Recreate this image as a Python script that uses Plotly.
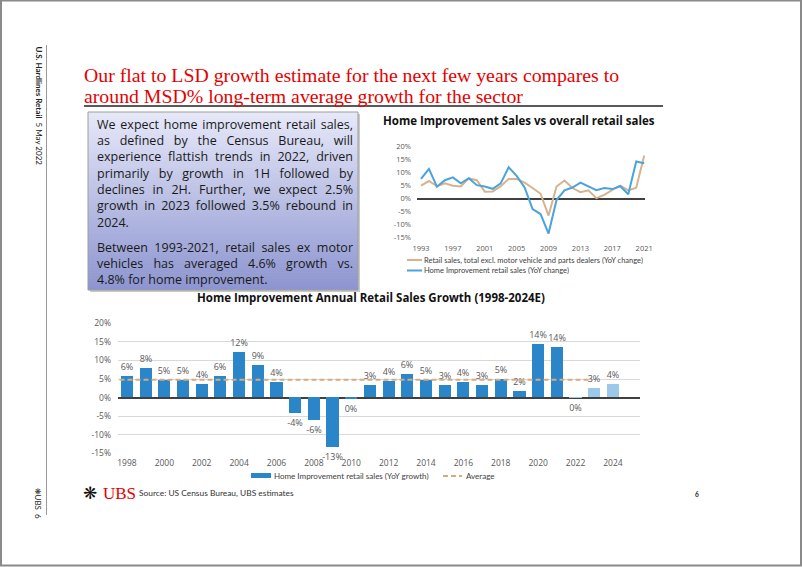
import json
import math
import plotly.graph_objects as go

W, H = 802, 567
def X(px): return px / W
def Y(py): return 1 - py / H

# ---------------- data ----------------
line_years = list(range(1993, 2022))
home_impr_yoy = [7.6, 11.5, 4.6, 7.1, 8.2, 5.9, 7.9, 5.2, 4.7, 3.8, 5.9, 12.1, 8.8, 4.3,
                 -4.0, -5.9, -13.4, -0.5, 3.2, 4.3, 6.2, 4.6, 3.3, 4.1, 3.7, 4.8, 1.7, 14.3, 13.6]
retail_ex_auto_yoy = [5.0, 6.8, 4.8, 5.9, 5.0, 4.7, 7.8, 7.1, 2.7, 2.8, 4.8, 7.6, 7.6, 6.2,
                      4.1, 1.9, -6.5, 4.7, 7.0, 4.1, 2.5, 3.2, 0.2, 1.5, 3.4, 5.0, 3.2, 4.2, 16.6]
line_ticks = [1993, 1997, 2001, 2005, 2009, 2013, 2017, 2021]

bar_years = list(range(1998, 2025))
bar_growth = [5.8, 7.8, 4.6, 4.6, 3.7, 5.8, 12.1, 8.6, 4.1, -4.1, -6.0, -13.4, -0.45,
              3.3, 4.4, 6.3, 4.7, 3.2, 4.2, 3.2, 4.8, 1.6, 14.3, 13.6, -0.1, 2.5, 3.5]
bar_is_estimate = [y >= 2022 for y in bar_years]
average_growth = 4.8
bar_ticks = list(range(1998, 2025, 2))
y_ticks = [-15, -10, -5, 0, 5, 10, 15, 20]
y_ticktext = [f"{v}%" for v in y_ticks]

para1 = [
    "We expect home improvement retail sales,",
    "as defined by the Census Bureau, will",
    "experience flattish trends in 2022, driven",
    "primarily by growth in 1H followed by",
    "declines in 2H. Further, we expect 2.5%",
    "growth in 2023 followed 3.5% rebound in",
    "2024.",
]
para2 = [
    "Between 1993-2021, retail sales ex motor",
    "vehicles has averaged 4.6% growth vs.",
    "4.8% for home improvement.",
]

C_BAR = "#2A86C8"
C_BAR_E = "#9CC9EA"
C_TAN = "#D4AC82"
C_TAN_LINE = "#D6B38E"
C_BLUE = "#4BA3DD"
C_TXT = "#595959"
FONT = "Lato"

bar_labels = [f"{int(math.floor(v + 0.5))}%" for v in bar_growth]

fig = go.Figure()

# ---------------- bar chart ----------------
fig.add_trace(go.Bar(
    x=bar_years, y=bar_growth,
    marker=dict(color=[C_BAR_E if e else C_BAR for e in bar_is_estimate], line=dict(width=0)),
    width=0.65,
    text=bar_labels, texttemplate="%{text}", textposition="outside", constraintext="none",
    textfont=dict(family="Open Sans", size=9, color=C_TXT),
    cliponaxis=False, showlegend=False, xaxis="x", yaxis="y"))
fig.add_trace(go.Scatter(
    x=[bar_years[0] - 0.4, bar_years[-2] - 0.3], y=[average_growth, average_growth],
    mode="lines", line=dict(color=C_TAN, width=1.8, dash="5px,3px"),
    showlegend=False, xaxis="x", yaxis="y"))

# ---------------- line chart ----------------
fig.add_trace(go.Scatter(
    x=line_years, y=retail_ex_auto_yoy, mode="lines",
    line=dict(color=C_TAN_LINE, width=2), showlegend=False, xaxis="x2", yaxis="y2"))
fig.add_trace(go.Scatter(
    x=line_years, y=home_impr_yoy, mode="lines",
    line=dict(color=C_BLUE, width=2), showlegend=False, xaxis="x2", yaxis="y2"))

tickfont9 = dict(family="Open Sans", size=8.5, color=C_TXT)
tickfont8 = dict(family="Open Sans", size=7.5, color=C_TXT)

fig.update_layout(
    template="none",
    width=W, height=H, margin=dict(l=0, r=0, t=0, b=0, pad=0, autoexpand=False),
    autosize=False,
    paper_bgcolor="white", plot_bgcolor="rgba(0,0,0,0)",
    bargap=0, hovermode=False,
    xaxis=dict(domain=[X(118), X(640)], range=[1997.52, 2025.45], tickvals=bar_ticks,
               showgrid=False, showline=False, zeroline=False, ticks="", automargin=False,
               ticklabelstandoff=3, tickfont=tickfont9, anchor="y"),
    yaxis=dict(domain=[Y(453.3), Y(323.3)], range=[-15, 20], tickvals=y_ticks,
               ticktext=y_ticktext, showgrid=True, gridcolor="#D9D9D9", gridwidth=1,
               zeroline=True, zerolinecolor="#404040", zerolinewidth=1.5, automargin=False,
               ticklabelstandoff=6, showline=False, ticks="", tickfont=tickfont9, anchor="x"),
    xaxis2=dict(domain=[X(417), X(645)], range=[1992.5, 2021.1], tickvals=line_ticks,
                showgrid=False, showline=False, zeroline=False, ticks="", automargin=False,
                ticklabelstandoff=5, tickfont=tickfont8, anchor="y2"),
    yaxis2=dict(domain=[Y(237.7), Y(146.7)], range=[-15, 20], tickvals=y_ticks,
                ticktext=y_ticktext, showgrid=False, zeroline=True, zerolinecolor="#404040",
                zerolinewidth=1.5, showline=False, ticks="", automargin=False,
                ticklabelstandoff=5, tickfont=tickfont8, anchor="x2"),
)

shapes = []
annotations = []

def paper_line(x0, y0, x1, y1, color, width, dash="solid"):
    shapes.append(dict(type="line", xref="paper", yref="paper", x0=X(x0), y0=Y(y0),
                       x1=X(x1), y1=Y(y1), line=dict(color=color, width=width, dash=dash)))

def text(px, py, s, size, color="#333333", family=FONT, xanchor="left", yanchor="middle",
         angle=0, align="left"):
    annotations.append(dict(x=X(px), y=Y(py), xref="paper", yref="paper", text=s,
                            showarrow=False, xanchor=xanchor, yanchor=yanchor,
                            textangle=angle, align=align, borderpad=0,
                            font=dict(size=size, color=color, family=family)))

# page frame
shapes.append(dict(type="rect", xref="paper", yref="paper", x0=X(1), y0=Y(565.5), x1=X(801),
                   y1=Y(0.5), line=dict(color="#8A8A8A", width=2), fillcolor="rgba(0,0,0,0)"))

# left side strip
paper_line(46.5, 45, 46.5, 515, "#9A9A9A", 1)
text(38, 45, "<b>U.S. Hardlines Retail</b>  5 May 2022", 8, "#222222",
     xanchor="center", yanchor="top", angle=90)
text(38, 486, "❋UBS  6", 8, "#222222", xanchor="center", yanchor="top", angle=90)

# main title
text(83, 75, "Our flat to LSD growth estimate for the next few years compares to", 19.8,
     "#E60000", family="Liberation Serif")
text(83, 96, "around MSD% long-term average growth for the sector", 19.8,
     "#E60000", family="Liberation Serif")
paper_line(84, 106, 663, 106, "#222222", 1.5)

# text box with vertical gradient
bx0, bx1, by0, by1 = 88, 358, 112, 290
shapes.append(dict(type="rect", xref="paper", yref="paper", x0=X(bx0 + 2), y0=Y(by1 + 2),
                   x1=X(bx1 + 2), y1=Y(by0 + 2), line=dict(width=0), fillcolor="#C8C8C8",
                   layer="below"))
top_c = (230, 232, 248)
bot_c = (141, 149, 208)
n = 60
for i in range(n):
    t = i / (n - 1)
    c = tuple(round(top_c[k] + (bot_c[k] - top_c[k]) * t) for k in range(3))
    ya = by0 + (by1 - by0) * i / n
    yb = by0 + (by1 - by0) * (i + 1) / n + 0.6
    shapes.append(dict(type="rect", xref="paper", yref="paper", x0=X(bx0), x1=X(bx1),
                       y0=Y(min(yb, by1)), y1=Y(ya), line=dict(width=0),
                       fillcolor="rgb(%d,%d,%d)" % c, layer="below"))
shapes.append(dict(type="rect", xref="paper", yref="paper", x0=X(bx0), y0=Y(by1),
                   x1=X(bx1), y1=Y(by0), line=dict(color="#9C9C9C", width=1),
                   fillcolor="rgba(0,0,0,0)", layer="below"))

pitch = 16.35
for i, ln in enumerate(para1):
    text(96, 124 + pitch * i, ln, 12.5, "#1A1A1A", family="Open Sans")
for i, ln in enumerate(para2):
    text(96, 247 + pitch * i, ln, 12.5, "#1A1A1A", family="Open Sans")
justify = para1[:-1] + para2[:-1]
justify_width = 256

# line chart title + legend
text(519, 120, "<b>Home Improvement Sales vs overall retail sales</b>", 11.5, "#111111",
     family="Open Sans", xanchor="center")
paper_line(407, 260, 422, 260, C_TAN_LINE, 2)
text(423, 260, "Retail sales, total excl. motor vehicle and parts dealers (YoY change)", 7.5, "#404040")
paper_line(407, 270.5, 422, 270.5, C_BLUE, 2)
text(423, 270.5, "Home Improvement retail sales (YoY change)", 7.5, "#404040")

# bar chart title + legend
text(370.5, 297, "<b>Home Improvement Annual Retail Sales Growth (1998-2024E)</b>", 11.5,
     "#111111", family="Open Sans", xanchor="center")
shapes.append(dict(type="rect", xref="paper", yref="paper", x0=X(251), x1=X(271),
                   y0=Y(478), y1=Y(473), line=dict(width=0), fillcolor=C_BAR))
text(273, 476, "Home Improvement retail sales (YoY growth)", 8, "#404040")
paper_line(443, 476, 462, 476, C_TAN, 1.8, "5px,3px")
text(465, 476, "Average", 8, "#404040")

# footer
text(82, 493, "❋", 17, "#111111", family="DejaVu Sans")
text(102, 493, "UBS", 17, "#E60000", family="Liberation Serif")
text(138, 493, "Source: US Census Bureau, UBS estimates", 8.4, "#333333")
text(697, 494, "<b>6</b>", 6.5, "#222222", xanchor="center")

fig.update_layout(shapes=shapes, annotations=annotations)

post_js = """
document.body.style.margin='0';document.body.style.overflow='hidden';
(function(){
  var J = %s, TW = %d;
  document.querySelectorAll('text.annotation-text').forEach(function(t){
    var s = t.textContent.replace(/\\u00a0/g,' ');
    if (J.indexOf(s) >= 0) {
      var n = (s.match(/ /g)||[]).length;
      var L = t.getComputedTextLength();
      if (n > 0 && L < TW) { t.style.wordSpacing = ((TW - L) / n) + 'px'; }
    }
  });
})();
""" % (json.dumps(justify), justify_width)

fig.write_html("out.html", config={"responsive": False, "displayModeBar": False},
               post_script=post_js)
